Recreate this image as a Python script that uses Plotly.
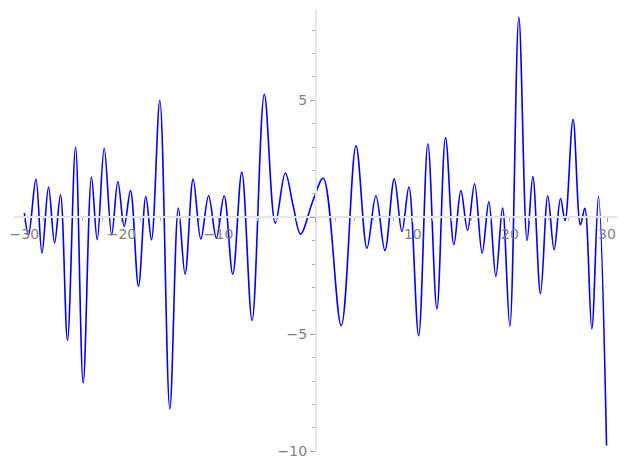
import plotly.graph_objects as go

# Points (peaks, troughs and a few shape points)
x_vals = [-30.0, -29.57, -28.81, -28.19, -27.51, -26.89, -26.28, -25.56, -24.73, -23.94,
          -23.09, -22.50, -21.78, -21.01, -20.37, -19.72, -19.07, -18.25, -17.49, -16.91,
          -16.05, -15.02, -14.14, -13.45, -12.62, -11.83, -11.03, -10.23, -9.43, -8.54,
          -7.61, -6.55, -5.29, -4.16, -3.13, -2.30, -1.56, -0.25, 0.78, 2.63, 4.15,
          5.28, 6.20, 7.13, 8.09, 8.88, 9.60, 10.60, 11.55, 12.48, 13.37,
          14.23, 14.95, 15.64, 16.36, 17.14, 17.83, 18.55, 19.24, 19.99, 20.92,
          21.77, 22.36, 23.15, 23.90, 24.55, 25.21, 25.68, 26.50, 27.26, 27.71,
          28.43, 29.12, 29.95]
y_vals = [0.18, -0.75, 1.63, -1.53, 1.29, -1.10, 0.96, -5.26, 3.00, -7.08,
          1.72, -0.96, 2.95, -0.75, 1.53, -0.39, 1.14, -2.95, 0.89, -0.96,
          4.99, -8.19, 0.39, -2.43, 1.63, -0.93, 0.92, -0.89, 0.92, -2.43,
          1.93, -4.41, 5.26, -0.25, 1.89, 0.45, -0.72, 0.75, 1.67, -4.63, 3.05,
          -1.32, 0.92, -1.42, 1.64, -0.61, 1.29, -5.06, 3.14, -3.92, 3.41,
          -1.17, 1.14, -0.56, 1.43, -1.53, 0.66, -2.53, 0.39, -4.66, 8.55,
          -0.99, 1.74, -3.27, 0.92, -1.39, 0.80, -0.14, 4.19, -0.32, 0.38,
          -4.77, 0.89, -9.75]

x_ticks = [-30, -20, -10, 0, 10, 20, 30]
x_tick_text = ['\u221230', '\u221220', '\u221210', '', '10', '20', '30']
y_ticks = [-10, -5, 0, 5]
y_tick_text = ['\u221210', '\u22125', '', '5']

x_range = [-31.17, 31.13]
y_range = [-10.03, 8.90]

fig = go.Figure()
fig.add_trace(go.Scatter(x=x_vals, y=y_vals, mode='lines',
                         line=dict(color='#0000ff', width=1.6, shape='spline', smoothing=1.0),
                         hoverinfo='skip', showlegend=False))

tick_font = dict(family='DejaVu Sans', size=14, color='#7f7f7f')
y_pos = (0 - y_range[0]) / (y_range[1] - y_range[0])
x_pos = (0 - x_range[0]) / (x_range[1] - x_range[0])

fig.update_xaxes(range=x_range, showline=True, linecolor='#e6e6e6', linewidth=1.6,
                 anchor='free', position=y_pos, zeroline=False, showgrid=False,
                 automargin=False,
                 tickmode='array', tickvals=x_ticks, ticktext=x_tick_text,
                 ticks='outside', ticklen=4, tickwidth=1, tickcolor='#9a9a9a',
                 tickfont=tick_font,
                 minor=dict(tickmode='linear', tick0=0, dtick=2, ticks='outside',
                            ticklen=2.5, tickwidth=1, tickcolor='#b0b0b0', showgrid=False))
fig.update_yaxes(range=y_range, showline=True, linecolor='#e6e6e6', linewidth=1.6,
                 anchor='free', position=x_pos, zeroline=False, showgrid=False,
                 automargin=False,
                 tickmode='array', tickvals=y_ticks, ticktext=y_tick_text,
                 ticks='outside', ticklen=5, tickwidth=1, tickcolor='#9a9a9a',
                 tickfont=tick_font,
                 minor=dict(tickmode='linear', tick0=0, dtick=1, ticks='outside',
                            ticklen=2.5, tickwidth=1, tickcolor='#b0b0b0', showgrid=False))

# page body has an 8px margin, so the figure is 8px smaller and offset
fig.update_layout(width=619, height=461, paper_bgcolor='white', plot_bgcolor='white',
                  margin=dict(l=5, r=9, t=1, b=16.5))

fig.write_html("out.html")
